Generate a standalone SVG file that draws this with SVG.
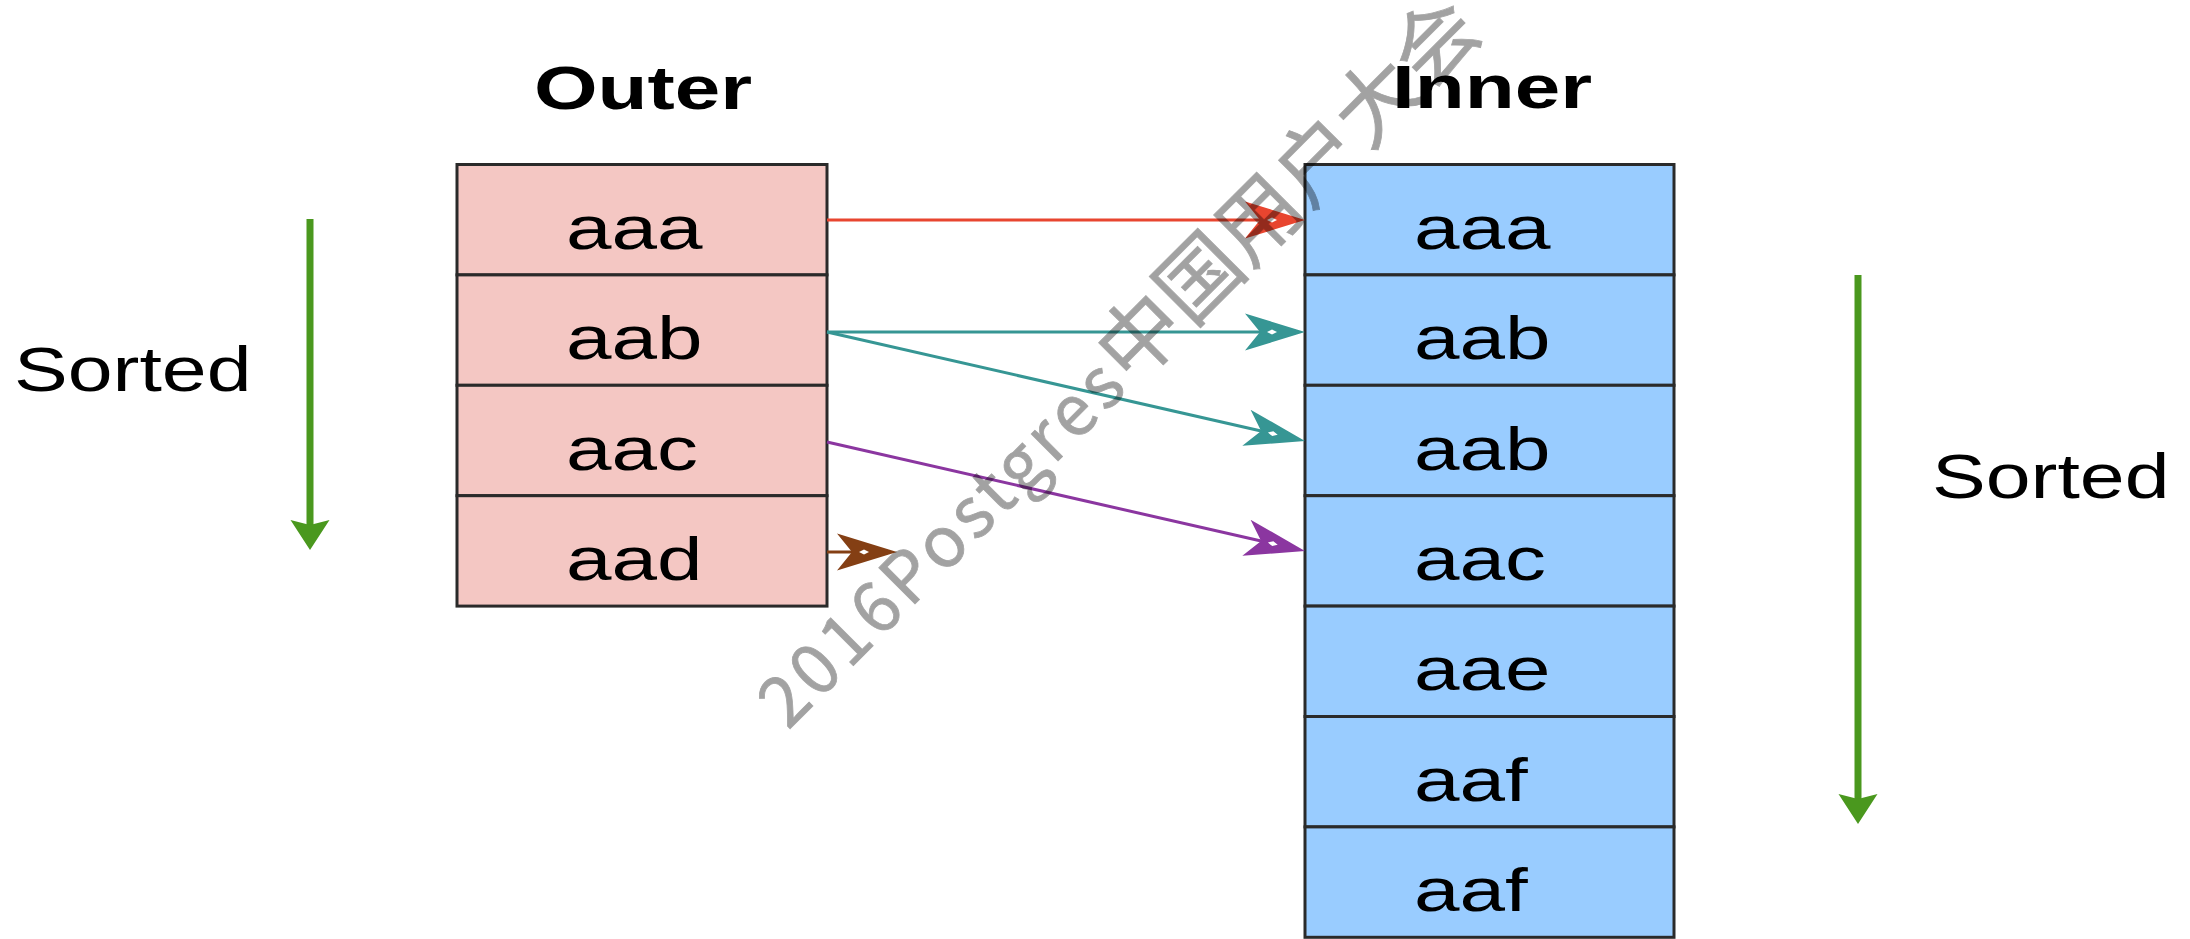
<svg xmlns="http://www.w3.org/2000/svg" width="2190" height="939" viewBox="0 0 2190 939">
  <style>
    .title { font-family: "Liberation Sans", Arial, sans-serif; font-weight: bold; font-size: 62px; fill: #000; text-anchor: middle; }
    .cell-text { font-family: "Liberation Sans", Arial, sans-serif; font-size: 62px; fill: #000; }
    .side { font-family: "Liberation Sans", Arial, sans-serif; font-size: 63px; fill: #000; }
    .outer-cell { fill: #F4C7C3; stroke: #2a2a2a; stroke-width: 3; }
    .inner-cell { fill: #99CCFF; stroke: #2a2a2a; stroke-width: 3; }
    .link { fill: none; stroke-width: 3; }
    .sort { fill: none; stroke: #4A981E; stroke-width: 7; }
    .wm { font-family: "Noto Sans CJK SC", "Noto Sans", sans-serif; fill: #000; stroke: #000; stroke-width: 0.8; }
    .wm-latin { font-size: 70px; }
    .wm-cjk { font-size: 83px; }
  </style>
  <defs>
    <!-- notched arrowhead with a small hole; ref point sits at the notch -->
    <marker id="head-red" viewBox="0 0 62 40" markerWidth="62" markerHeight="40" refX="15" refY="20" orient="auto" markerUnits="userSpaceOnUse">
      <path d="M60 20 L0 1.5 L15 20 L0 38.5 Z M22 20 L27 17.5 L32 20 L27 22.5 Z" fill="#E8452F" fill-rule="evenodd"/>
    </marker>
    <marker id="head-teal" viewBox="0 0 62 40" markerWidth="62" markerHeight="40" refX="15" refY="20" orient="auto" markerUnits="userSpaceOnUse">
      <path d="M60 20 L0 1.5 L15 20 L0 38.5 Z M22 20 L27 17.5 L32 20 L27 22.5 Z" fill="#369694" fill-rule="evenodd"/>
    </marker>
    <marker id="head-purple" viewBox="0 0 62 40" markerWidth="62" markerHeight="40" refX="15" refY="20" orient="auto" markerUnits="userSpaceOnUse">
      <path d="M60 20 L0 1.5 L15 20 L0 38.5 Z M22 20 L27 17.5 L32 20 L27 22.5 Z" fill="#8B36A0" fill-rule="evenodd"/>
    </marker>
    <marker id="head-brown" viewBox="0 0 62 40" markerWidth="62" markerHeight="40" refX="15" refY="20" orient="auto" markerUnits="userSpaceOnUse">
      <path d="M60 20 L0 1.5 L15 20 L0 38.5 Z M22 20 L27 17.5 L32 20 L27 22.5 Z" fill="#843F14" fill-rule="evenodd"/>
    </marker>
    <marker id="head-green" viewBox="0 0 32 40" markerWidth="32" markerHeight="40" refX="5" refY="20" orient="auto" markerUnits="userSpaceOnUse">
      <path d="M30 20 L0 0.5 L5 20 L0 39.5 Z" fill="#4A981E"/>
    </marker>
  </defs>

  <!-- titles -->
  <g id="outer-title">
    <text class="title" transform="translate(643 109) scale(1.32 1)">Outer</text>
  </g>
  <g id="inner-title">
    <text class="title" transform="translate(1492 108) scale(1.32 1)">Inner</text>
  </g>

  <!-- outer relation rows -->
  <g id="outer">
    <g id="outer-1">
      <rect class="outer-cell" x="457" y="164.5" width="370" height="110.4"/>
      <text class="cell-text" transform="translate(566 248.7) scale(1.32 1)">aaa</text>
    </g>
    <g id="outer-2">
      <rect class="outer-cell" x="457" y="274.9" width="370" height="110.4"/>
      <text class="cell-text" transform="translate(566 359.1) scale(1.32 1)">aab</text>
    </g>
    <g id="outer-3">
      <rect class="outer-cell" x="457" y="385.3" width="370" height="110.4"/>
      <text class="cell-text" transform="translate(566 469.5) scale(1.32 1)">aac</text>
    </g>
    <g id="outer-4">
      <rect class="outer-cell" x="457" y="495.7" width="370" height="110.4"/>
      <text class="cell-text" transform="translate(566 579.9) scale(1.32 1)">aad</text>
    </g>
  </g>

  <!-- inner relation rows -->
  <g id="inner">
    <g id="inner-1">
      <rect class="inner-cell" x="1305" y="164.5" width="369" height="110.4"/>
      <text class="cell-text" transform="translate(1414 248.7) scale(1.32 1)">aaa</text>
    </g>
    <g id="inner-2">
      <rect class="inner-cell" x="1305" y="274.9" width="369" height="110.4"/>
      <text class="cell-text" transform="translate(1414 359.1) scale(1.32 1)">aab</text>
    </g>
    <g id="inner-3">
      <rect class="inner-cell" x="1305" y="385.3" width="369" height="110.4"/>
      <text class="cell-text" transform="translate(1414 469.5) scale(1.32 1)">aab</text>
    </g>
    <g id="inner-4">
      <rect class="inner-cell" x="1305" y="495.7" width="369" height="110.4"/>
      <text class="cell-text" transform="translate(1414 579.9) scale(1.32 1)">aac</text>
    </g>
    <g id="inner-5">
      <rect class="inner-cell" x="1305" y="606.1" width="369" height="110.4"/>
      <text class="cell-text" transform="translate(1414 690.3) scale(1.32 1)">aae</text>
    </g>
    <g id="inner-6">
      <rect class="inner-cell" x="1305" y="716.5" width="369" height="110.4"/>
      <text class="cell-text" transform="translate(1414 800.7) scale(1.32 1)">aaf</text>
    </g>
    <g id="inner-7">
      <rect class="inner-cell" x="1305" y="826.9" width="369" height="110.4"/>
      <text class="cell-text" transform="translate(1414 911.1) scale(1.32 1)">aaf</text>
    </g>
  </g>

  <!-- sort order indicators -->
  <g id="outer-sorted">
    <line class="sort" x1="310" y1="219" x2="310" y2="525" marker-end="url(#head-green)"/>
    <text class="side" transform="translate(14 391) scale(1.28 1)">Sorted</text>
  </g>
  <g id="inner-sorted">
    <line class="sort" x1="1858" y1="275" x2="1858" y2="799" marker-end="url(#head-green)"/>
    <text class="side" transform="translate(1932 498) scale(1.28 1)">Sorted</text>
  </g>

  <!-- join matches -->
  <g id="connectors">
    <line class="link" stroke="#E8452F" x1="827" y1="220" x2="1260" y2="220" marker-end="url(#head-red)"/>
    <line class="link" stroke="#369694" x1="827" y1="332" x2="1260" y2="332" marker-end="url(#head-teal)"/>
    <line class="link" stroke="#369694" x1="827" y1="332" x2="1261.1" y2="431" marker-end="url(#head-teal)"/>
    <line class="link" stroke="#8B36A0" x1="827" y1="442" x2="1261.1" y2="541" marker-end="url(#head-purple)"/>
    <line class="link" stroke="#843F14" x1="827" y1="552" x2="852" y2="552" marker-end="url(#head-brown)"/>
  </g>

  <!-- watermark, translucent over everything -->
  <g opacity="0.36">
    <text class="wm" x="0" y="0" transform="translate(788 731) rotate(-45)"><tspan class="wm-latin" textLength="482" lengthAdjust="spacing">2016Postgres</tspan><tspan class="wm-cjk" textLength="500" lengthAdjust="spacing">中国用户大会</tspan></text>
  </g>
</svg>
